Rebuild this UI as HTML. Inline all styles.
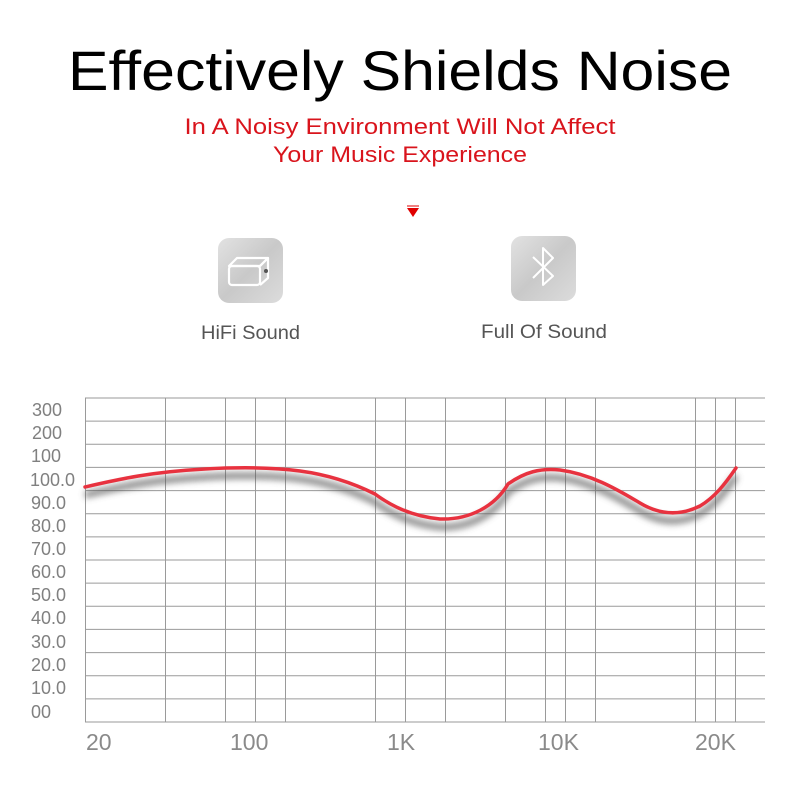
<!DOCTYPE html>
<html><head><style>
html,body{margin:0;padding:0;background:#fff;}
svg{display:block;}
</style></head><body>
<svg width="800" height="800" viewBox="0 0 800 800" xmlns="http://www.w3.org/2000/svg" font-family="Liberation Sans, sans-serif">
<defs>
<filter id="sh" x="-10%" y="-50%" width="120%" height="200%"><feGaussianBlur stdDeviation="3.5"/></filter>
<linearGradient id="ig" x1="0" y1="0" x2="1" y2="1"><stop offset="0" stop-color="#e2e2e2"/><stop offset="0.5" stop-color="#c9c9c9"/><stop offset="1" stop-color="#dcdcdc"/></linearGradient>
</defs>
<text x="400" y="90" text-anchor="middle" font-size="56" fill="#000" textLength="664" lengthAdjust="spacingAndGlyphs">Effectively Shields Noise</text>
<text x="400" y="134" text-anchor="middle" font-size="22" fill="#d9141c" textLength="431" lengthAdjust="spacingAndGlyphs">In A Noisy Environment Will Not Affect</text>
<text x="400" y="162" text-anchor="middle" font-size="22" fill="#d9141c" textLength="254" lengthAdjust="spacingAndGlyphs">Your Music Experience</text>
<polygon points="407,208 419,208 413,217" fill="#e00000"/>
<line x1="407" y1="206" x2="419" y2="206" stroke="#e00000" stroke-width="1"/>
<rect x="218" y="238" width="65" height="65" rx="11" fill="url(#ig)"/>
<g fill="none" stroke="#fff" stroke-width="2.2" stroke-linejoin="round">
<path d="M229,266 L237,258 L268,258 L260,266 Z"/>
<rect x="229" y="266" width="31" height="19" rx="3"/>
<path d="M260,266 L268,258 L268,278 L260,285"/>
</g>
<circle cx="266" cy="271" r="2" fill="#555"/>
<rect x="511" y="236" width="65" height="65" rx="11" fill="url(#ig)"/>
<path d="M533,257 L553,276 L543,285 L543,248 L553,258 L533,278" fill="none" stroke="#fff" stroke-width="2" stroke-linejoin="round"/>
<text x="250.5" y="339" text-anchor="middle" font-size="19" fill="#555" textLength="99" lengthAdjust="spacingAndGlyphs">HiFi Sound</text>
<text x="544" y="338" text-anchor="middle" font-size="19" fill="#555" textLength="126" lengthAdjust="spacingAndGlyphs">Full Of Sound</text>
<g stroke="#9a9a9a" stroke-width="1">
<line x1="85" y1="398" x2="765" y2="398"/>
<line x1="85" y1="421.1" x2="765" y2="421.1"/>
<line x1="85" y1="444.3" x2="765" y2="444.3"/>
<line x1="85" y1="467.4" x2="765" y2="467.4"/>
<line x1="85" y1="490.6" x2="765" y2="490.6"/>
<line x1="85" y1="513.7" x2="765" y2="513.7"/>
<line x1="85" y1="536.9" x2="765" y2="536.9"/>
<line x1="85" y1="560" x2="765" y2="560"/>
<line x1="85" y1="583.1" x2="765" y2="583.1"/>
<line x1="85" y1="606.3" x2="765" y2="606.3"/>
<line x1="85" y1="629.4" x2="765" y2="629.4"/>
<line x1="85" y1="652.6" x2="765" y2="652.6"/>
<line x1="85" y1="675.7" x2="765" y2="675.7"/>
<line x1="85" y1="698.9" x2="765" y2="698.9"/>
<line x1="85" y1="722" x2="765" y2="722"/>
<line x1="85.5" y1="398" x2="85.5" y2="722"/>
<line x1="165.5" y1="398" x2="165.5" y2="722"/>
<line x1="225.5" y1="398" x2="225.5" y2="722"/>
<line x1="255.5" y1="398" x2="255.5" y2="722"/>
<line x1="285.5" y1="398" x2="285.5" y2="722"/>
<line x1="375.5" y1="398" x2="375.5" y2="722"/>
<line x1="405.5" y1="398" x2="405.5" y2="722"/>
<line x1="445.5" y1="398" x2="445.5" y2="722"/>
<line x1="505.5" y1="398" x2="505.5" y2="722"/>
<line x1="545.5" y1="398" x2="545.5" y2="722"/>
<line x1="565.5" y1="398" x2="565.5" y2="722"/>
<line x1="595.5" y1="398" x2="595.5" y2="722"/>
<line x1="695.5" y1="398" x2="695.5" y2="722"/>
<line x1="715.5" y1="398" x2="715.5" y2="722"/>
<line x1="735.5" y1="398" x2="735.5" y2="722"/>
</g>
<g font-size="18" fill="#808080">
<text x="32" y="416">300</text>
<text x="32" y="439">200</text>
<text x="31" y="462">100</text>
<text x="30" y="486">100.0</text>
<text x="31" y="509">90.0</text>
<text x="31" y="532">80.0</text>
<text x="31" y="555">70.0</text>
<text x="31" y="578">60.0</text>
<text x="31" y="601">50.0</text>
<text x="31" y="624">40.0</text>
<text x="31" y="648">30.0</text>
<text x="31" y="671">20.0</text>
<text x="31" y="694">10.0</text>
<text x="31" y="718">00</text>
</g>
<g font-size="23" fill="#8a8a8a">
<text x="86" y="750">20</text>
<text x="230" y="750">100</text>
<text x="387" y="750">1K</text>
<text x="538" y="750">10K</text>
<text x="695" y="750">20K</text>
</g>
<path d="M85,487 C120,479 150,472 205,469 C240,467 270,467 300,471 C330,475 355,484 375,494 C390,505 410,516 440,519 C470,520 495,506 508,484 C525,472 540,468 560,470 C590,474 615,488 640,503 C660,515 680,516 700,506 C715,497 725,484 736,468" fill="none" stroke="#555" stroke-width="6" opacity="0.75" transform="translate(0,8)" filter="url(#sh)"/>
<path d="M85,487 C120,479 150,472 205,469 C240,467 270,467 300,471 C330,475 355,484 375,494 C390,505 410,516 440,519 C470,520 495,506 508,484 C525,472 540,468 560,470 C590,474 615,488 640,503 C660,515 680,516 700,506 C715,497 725,484 736,468" fill="none" stroke="#e8323f" stroke-width="3.5" stroke-linecap="round"/>
</svg>
</body></html>
